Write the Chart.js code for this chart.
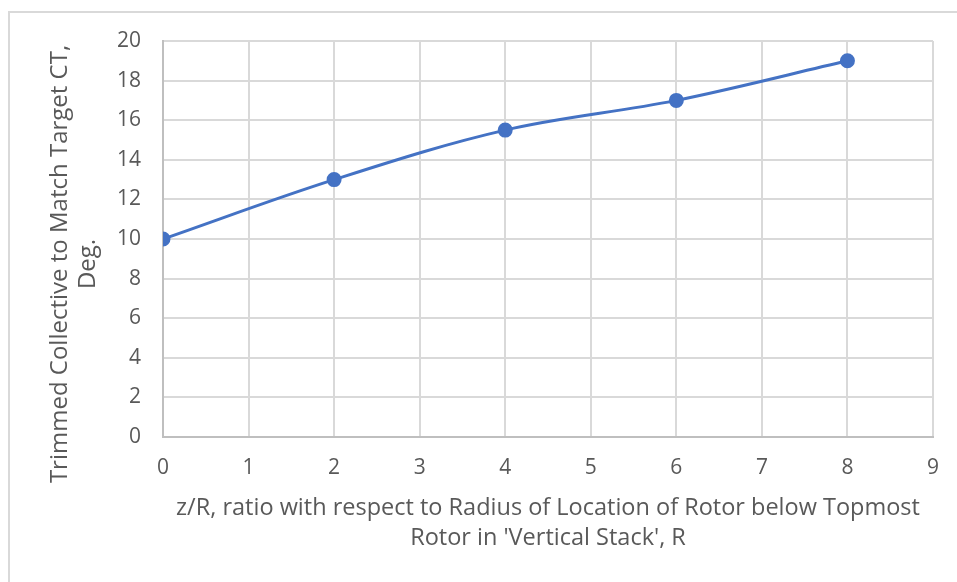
<!DOCTYPE html>
<html>
<head>
<meta charset="utf-8">
<script src="https://cdn.jsdelivr.net/npm/chart.js@4"></script>
<style>
  html, body { margin: 0; padding: 0; background: #fff; }
  #wrap { position: relative; width: 957px; height: 582px; overflow: hidden; }
  #frame { position: absolute; left: 8px; top: 11px; width: 960px; height: 590px; border: 2px solid #d9d9d9; box-sizing: border-box; }
  canvas { position: absolute; left: 0; top: 0; }
</style>
</head>
<body>
<div id="wrap">
  <div id="frame"></div>
  <canvas id="myChart" width="957" height="582"></canvas>
</div>
<script>
// values
const zOverR = [0, 2, 4, 6, 8];
const collective = [10, 13, 15.5, 17, 19];
const xTitle = ['z/R, ratio with respect to Radius of Location of Rotor below Topmost', "Rotor in 'Vertical Stack', R"];
const yTitle = ['Trimmed Collective to Match Target CT,', 'Deg.'];

const textColor = '#595959';
const gridColor = '#d9d9d9';
const fontFamily = '"Open Sans", "Noto Sans", sans-serif';

// y title sits a bit lower than the plot centre in the original, so draw it by hand
const yTitlePlugin = {
    id: 'yTitle',
    afterDraw(chart) {
        const { ctx } = chart;
        ctx.save();
        ctx.translate(60, 264);
        ctx.rotate(-Math.PI / 2);
        ctx.fillStyle = textColor;
        ctx.font = '24px ' + fontFamily;
        ctx.textAlign = 'center';
        ctx.textBaseline = 'middle';
        yTitle.forEach((line, i) => ctx.fillText(line, 0, i * 28));
        ctx.restore();
    }
};

const ctx = document.getElementById('myChart').getContext('2d');
const chart = new Chart(ctx, {
    type: 'scatter',
    data: {
        datasets: [{
            data: zOverR.map((x, i) => ({ x: x, y: collective[i] })),
            showLine: true,
            borderColor: '#4472c4',
            backgroundColor: '#4472c4',
            borderWidth: 3,
            pointRadius: 6,
            pointHoverRadius: 6,
            tension: 0.35
        }]
    },
    options: {
        responsive: false,
        animation: false,
        layout: { padding: { top: 41, right: 23, left: 0, bottom: 0 } },
        plugins: { legend: { display: false }, tooltip: { enabled: false } },
        scales: {
            x: {
                type: 'linear',
                min: 0, max: 9,
                ticks: { stepSize: 1, color: textColor, font: { family: fontFamily, size: 21 }, padding: 18 },
                grid: { color: gridColor, lineWidth: 2, drawTicks: false },
                border: { color: '#bfbfbf', width: 2 },
                title: { display: true, text: xTitle, color: textColor, font: { family: fontFamily, size: 23.5, lineHeight: 1.28 }, padding: { bottom: 29 } },
                afterFit(scale) { scale.height = 145; }
            },
            y: {
                min: 0, max: 20,
                ticks: { stepSize: 2, color: textColor, font: { family: fontFamily, size: 21 }, padding: 22 },
                grid: { color: gridColor, lineWidth: 2, drawTicks: false },
                border: { color: '#bfbfbf', width: 2 },
                afterFit(scale) { scale.width = 163; }
            }
        }
    },
    plugins: [yTitlePlugin]
});
</script>
</body>
</html>
